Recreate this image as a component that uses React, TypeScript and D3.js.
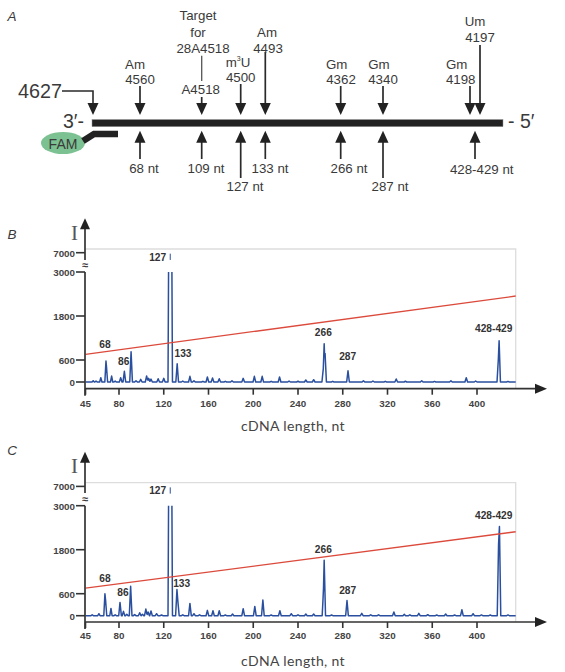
import React from "react";
import * as d3 from "d3";

const xTicks = [45, 80, 120, 160, 200, 240, 280, 320, 360, 400];
const yTicks = [0, 600, 1800, 3000, 7000];

const peaksB: [number, number][] = [
  [53, 36], [56, 25], [61, 118], [66.4, 570], [66.9, 430], [72.3, 163], [76, 25], [81.5, 118], [84.8, 290], [90.8, 823],
  [95.2, 36], [99.4, 72], [104.7, 163], [106.5, 100], [108.6, 80], [115, 90], [120, 100], [132, 498], [137, 25],
  [143.4, 154], [147, 36], [155, 18], [159, 136], [163.6, 108], [169.6, 90], [175, 18], [181, 36], [191, 100],
  [201, 154], [208, 154], [216, 18], [223.5, 136], [232, 25], [240, 20], [247, 54], [254, 63], [263.4, 1040],
  [262.6, 360], [264.2, 780], [271, 18], [284.7, 307], [298.5, 36], [307, 27], [318, 18], [327.8, 81], [336, 20],
  [350.6, 36], [362, 16], [376.7, 36], [390.4, 118], [398.8, 27], [420, 1122], [419.3, 620], [428, 16],
];
const peaksC: [number, number][] = [
  [52, 25], [59, 54], [65.3, 597], [66, 420], [71.6, 199], [76, 25], [80.9, 362], [84, 118], [87, 40], [90.4, 805],
  [94, 30], [98.5, 81], [101, 40], [104, 181], [106, 100], [108.6, 127], [113.6, 54], [118, 20], [131.8, 715],
  [132.6, 400], [137, 25], [143.4, 335], [147, 54], [152, 25], [159, 145], [164, 136], [169.6, 136], [175, 18],
  [181.5, 45], [191, 190], [201.4, 253], [208.6, 425], [216, 18], [223.8, 136], [234, 54], [240, 25], [247, 45],
  [254, 45], [263.4, 1511], [262.8, 700], [270, 18], [283.8, 416], [297, 63], [305, 25], [312, 25], [325.7, 100],
  [335, 36], [340, 25], [348, 63], [356, 27], [364, 18], [372, 45], [380, 18], [386.5, 163], [396.5, 54], [404, 20],
  [412, 18], [420.3, 2434], [419.5, 1945], [428, 20],
];
const clippedPeakX = [124.3, 127.3];
const clippedTop = 3000;
const fragmentValues = [5500, 6800];
const fragmentX = 125.8;
const redB: [number, number][] = [[45, 755], [435, 2345]];
const redC: [number, number][] = [[45, 751], [435, 2290]];

const downArrows = [
  { x: 140, top: 86 }, { x: 201.7, top: 97 }, { x: 240.7, top: 84 }, { x: 265.3, top: 52 },
  { x: 340.7, top: 86 }, { x: 383, top: 86 }, { x: 470, top: 86 }, { x: 480, top: 45 },
];
const upArrows = [
  { x: 140, bottom: 159 }, { x: 201.7, bottom: 159 }, { x: 240.7, bottom: 178 }, { x: 265.3, bottom: 159 },
  { x: 340.7, bottom: 159 }, { x: 383, bottom: 178 }, { x: 475, bottom: 159 },
];
const siteLabels: [string, number, number][] = [
  ["Am", 135, 64], ["4560", 140, 79], ["Target", 198, 15], ["for", 198, 32], ["28A4518", 203, 48], ["A4518", 200.7, 89],
  ["4500", 240.7, 77], ["Am", 267, 32], ["4493", 268, 48], ["Gm", 336.7, 64], ["4362", 341, 79],
  ["Gm", 379, 64], ["4340", 383, 79], ["Gm", 456.7, 64], ["4198", 460.7, 79], ["Um", 475, 21], ["4197", 480, 37],
];
const lengthLabels: [string, number, number][] = [
  ["68 nt", 144, 168], ["109 nt", 206, 168], ["127 nt", 245, 186], ["133 nt", 270, 168],
  ["266 nt", 349, 168], ["287 nt", 390, 186], ["428-429 nt", 481.7, 169],
];

const SANS = "'Liberation Sans', Arial, sans-serif";
const DARK = "#333";

function trace(peaks: [number, number][], w: number): [number, number][] {
  const xs = new Set<number>([45, 435]);
  peaks.forEach(([x]) => { xs.add(x - w); xs.add(x); xs.add(x + w); });
  const height = (x: number) =>
    d3.max(peaks, ([px, h]) => Math.max(0, h * (1 - Math.abs(x - px) / w))) ?? 0;
  return [...xs].sort((a, b) => a - b).map((x) => [x, height(x)] as [number, number]);
}

function Arrow({ x, y1, y2 }: { x: number; y1: number; y2: number }) {
  const dir = y2 > y1 ? 1 : -1;
  return (
    <g>
      <line x1={x} x2={x} y1={y1} y2={y2 - dir * 8} stroke="#2a2a2a" strokeWidth={1.7} />
      <path d={`M${x},${y2}L${x - 5.5},${y2 - dir * 12}L${x + 5.5},${y2 - dir * 12}Z`} fill="#222" />
    </g>
  );
}

function T({ x, y, children, size = 13.3, anchor = "middle", weight = 400, fill = "#3a3a3a", family = SANS, style }: any) {
  return (
    <text x={x} y={y} fontSize={size} textAnchor={anchor} fontWeight={weight} fill={fill} fontFamily={family} dominantBaseline="central" style={style}>
      {children}
    </text>
  );
}

function Panel({ peaks, red, y0, y600, top, axisY, tip, gapEnd, labels, letter, letterY, iY, breakY, titleY, tickY }: any) {
  const x = d3.scaleLinear().domain([45, 80, 400, 435]).range([85.5, 119, 477, 515.7]);
  const y3000 = y0 - (y0 - y600) * 5;
  const y = d3.scaleLinear().domain([0, 3000, 7000]).range([y0, y3000, top + 3.7]);
  const left = x(45);
  const right = x(435);
  const line = d3.line<[number, number]>().x((d) => x(d[0])).y((d) => y(d[1]));
  const pts = trace(peaks, 1.2);
  const leftPts = pts.filter((d) => d[0] < clippedPeakX[0] - 1);
  const rightPts = pts.filter((d) => d[0] > clippedPeakX[1] + 1);
  const clippedD =
    (line([...leftPts, [clippedPeakX[0] - 0.5, 0], [clippedPeakX[0], clippedTop]]) ?? "") +
    (line([[clippedPeakX[1], clippedTop], [clippedPeakX[1] + 0.5, 0], ...rightPts]) ?? "");
  return (
    <g>
      <path d={`M${left},${top}H${right}V${axisY}`} fill="none" stroke="#ddd" strokeWidth={1.3} />
      <path d={clippedD} fill="none" stroke="#2a4f9f" strokeWidth={1.5} strokeLinejoin="round" />
      <line x1={x(fragmentX)} x2={x(fragmentX)} y1={y(fragmentValues[0])} y2={y(fragmentValues[1])} stroke="#2a4f9f" strokeWidth={1} />
      <path d={line(red) ?? ""} fill="none" stroke="#dc4a3c" strokeWidth={1.3} />

      <line x1={85} x2={85} y1={tip + 8} y2={gapEnd} stroke={DARK} strokeWidth={1.7} />
      <line x1={85} x2={85} y1={y3000} y2={axisY + 7} stroke={DARK} strokeWidth={1.7} />
      <path d={`M85,${tip}L80,${tip + 11}H90Z`} fill="#222" />
      <line x1={85} x2={538} y1={axisY} y2={axisY} stroke={DARK} strokeWidth={1.7} />
      <path d={`M547,${axisY}L535,${axisY - 5}V${axisY + 5}Z`} fill="#222" />
      {yTicks.map((t) => (
        <g key={t}>
          <line x1={76} x2={85} y1={y(t)} y2={y(t)} stroke={DARK} strokeWidth={1.6} />
          <T x={75} y={y(t) + 0.3} size={9.8} anchor="end" weight={700} fill="#444">{t}</T>
        </g>
      ))}
      {xTicks.map((t) => (
        <g key={t}>
          <line x1={x(t)} x2={x(t)} y1={axisY} y2={axisY + 6} stroke={DARK} strokeWidth={1.6} />
          <T x={x(t)} y={tickY} size={9.8} weight={700} fill="#444">{t}</T>
        </g>
      ))}
      <T x={85} y={breakY} size={11} weight={700}>≈</T>
      <T x={74.5} y={iY} size={21} family="'Liberation Serif', serif" fill="#555">I</T>
      <T x={12} y={letterY} size={13.5} style={{ fontStyle: "italic" }}>{letter}</T>
      <T x={293} y={titleY} size={14} family="Lato, sans-serif" fill="#444" style={{ letterSpacing: "0.35px" }}>cDNA length, nt</T>
      {labels.map(([s, lx, ly]: [string, number, number]) => (
        <T key={s} x={lx} y={ly} size={10.2} weight={700} fill="#333">{s}</T>
      ))}
    </g>
  );
}

export default function App() {
  return (
    <svg width={565} height={672} style={{ position: "absolute", left: 0, top: 0, background: "#fff" }}>
      <T x={12} y={16} size={13.5} style={{ fontStyle: "italic" }}>A</T>
      <T x={18} y={91} size={19.8} anchor="start">4627</T>
      <path d="M62,91H93V108" fill="none" stroke="#2a2a2a" strokeWidth={1.6} />
      <path d="M93,115L87.5,103H98.5Z" fill="#222" />
      <T x={63} y={121} size={19.5} anchor="start">3′-</T>
      <T x={508} y={121} size={19.5} anchor="start">- 5′</T>
      <rect x={92} y={119.5} width={411} height={7.2} fill="#222" stroke="#999" strokeWidth={0.5} />
      <ellipse cx={63} cy={143} rx={22} ry={11} fill="#7cc191" />
      <T x={63} y={143.5} size={14}>FAM</T>
      <path d="M83,141L94,134H118" fill="none" stroke="#222" strokeWidth={6.5} />

      <line x1={201.7} x2={201.7} y1={55.7} y2={81} stroke="#555" strokeWidth={1.3} />
      {downArrows.map((a) => <Arrow key={a.x} x={a.x} y1={a.top} y2={115} />)}
      {upArrows.map((a) => <Arrow key={a.x} x={a.x} y1={a.bottom} y2={130.7} />)}
      {siteLabels.map(([s, lx, ly]) => <T key={s + lx} x={lx} y={ly}>{s}</T>)}
      {lengthLabels.map(([s, lx, ly]) => <T key={s} x={lx} y={ly}>{s}</T>)}
      <text x={238} y={62} fontSize={13.3} textAnchor="middle" fill="#3a3a3a" fontFamily={SANS} dominantBaseline="central">
        m<tspan fontSize={7} dy={-4}>3</tspan><tspan dy={4}>U</tspan>
      </text>

      <Panel peaks={peaksB} red={redB} y0={382} y600={360} top={249} axisY={388.7} tip={218.3} gapEnd={260}
        labels={[["68", 105, 344.7], ["86", 123.7, 361.7], ["133", 183, 353.7], ["127", 157.7, 257], ["266", 323.3, 332], ["287", 347.7, 356.7], ["428-429", 493.7, 328.3]]}
        letter="B" letterY={234} iY={233} breakY={265} titleY={425.7} tickY={403} />
      <Panel peaks={peaksC} red={redC} y0={615.7} y600={593.7} top={482.7} axisY={622} tip={451.7} gapEnd={493}
        labels={[["68", 105, 578], ["86", 123, 592], ["133", 181.7, 583], ["127", 157.7, 490.3], ["266", 323.3, 549], ["287", 347.7, 590], ["428-429", 493.7, 515.7]]}
        letter="C" letterY={450} iY={466} breakY={499} titleY={660.7} tickY={635.7} />
    </svg>
  );
}
